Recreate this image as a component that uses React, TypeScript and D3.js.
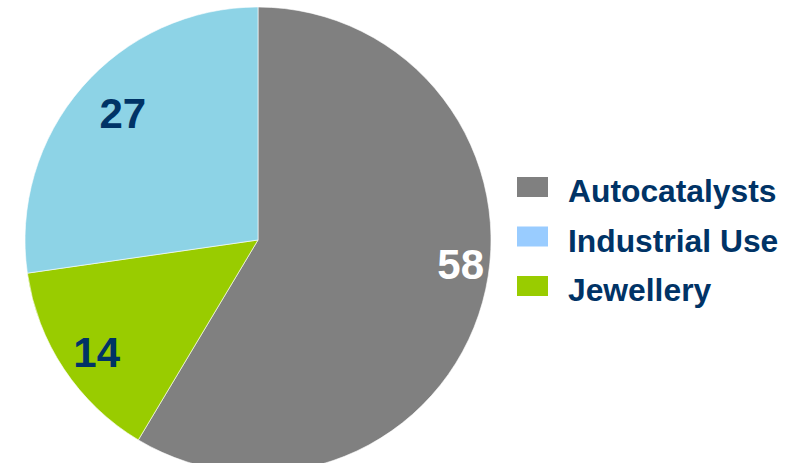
import React from "react";
import * as d3 from "d3";

const categories = ["Autocatalysts", "Jewellery", "Industrial Use"];
const values = [58, 14, 27];
const sliceColors = ["#808080", "#99CC00", "#8DD3E6"];
const legendOrder = ["Autocatalysts", "Industrial Use", "Jewellery"];
const legendColors = ["#808080", "#99CCFF", "#99CC00"];
const labelColors = ["#FFFFFF", "#003366", "#003366"];
// label placement: angle (deg clockwise from top), distance from centre
const labelPolar = [
  { a: 96.5, r: 204 },
  { a: 235.4, r: 196 },
  { a: 313.4, r: 186 },
];

const W = 798;
const H = 463;
const cx = 258;
const cy = 240;
const R = 233;

export default function App() {
  const pie = d3
    .pie<number>()
    .sort(null)
    .value((d) => d)
    .startAngle(0)
    .endAngle(2 * Math.PI);
  const arcs = pie(values);
  const arc = d3.arc<d3.PieArcDatum<number>>().innerRadius(0).outerRadius(R);

  const legendY = d3.scalePoint<string>().domain(legendOrder).range([187, 286]);

  return (
    <svg
      width={W}
      height={H}
      style={{ position: "absolute", left: 0, top: 0, background: "#fff" }}
      fontFamily="'Liberation Sans', Arial, sans-serif"
    >
      <g transform={`translate(${cx},${cy})`}>
        {arcs.map((a, i) => (
          <path
            key={categories[i]}
            d={arc(a) || ""}
            fill={sliceColors[i]}
            stroke="#fff"
            strokeWidth={0.6}
          />
        ))}
        {arcs.map((a, i) => {
          const ang = (labelPolar[i].a * Math.PI) / 180;
          const x = labelPolar[i].r * Math.sin(ang);
          const y = -labelPolar[i].r * Math.cos(ang);
          return (
            <text
              key={"l" + i}
              x={x}
              y={y + 16}
              textAnchor="middle"
              fontSize={42}
              fontWeight="bold"
              fill={labelColors[i]}
            >
              {values[i]}
            </text>
          );
        })}
      </g>
      {legendOrder.map((name, i) => {
        const y = legendY(name)!;
        return (
          <g key={name}>
            <rect x={517} y={y - 10} width={31} height={20} fill={legendColors[i]} />
            <text
              x={568}
              y={y + 15}
              fontSize={31.8}
              fontWeight="bold"
              fill="#003366"
            >
              {name}
            </text>
          </g>
        );
      })}
    </svg>
  );
}
